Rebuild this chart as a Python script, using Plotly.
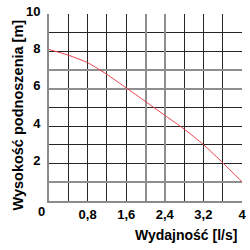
import plotly.graph_objects as go

flow = [0.0, 0.4, 0.8, 1.2, 1.6, 2.0, 2.4, 2.8, 3.2, 3.6, 4.0]
head = [8.1, 7.8, 7.4, 6.77, 6.05, 5.32, 4.58, 3.85, 3.02, 2.05, 1.03]

x_tickvals = [0.8, 1.6, 2.4, 3.2, 4.0]
x_ticktext = ["0,8", "1,6", "2,4", "3,2", "4"]
y_tickvals = [2, 4, 6, 8, 10]
y_ticktext = ["2", "4", "6", "8", "10"]
x_grid_dark = [0.4, 0.8, 1.2, 1.6, 2.8, 3.2, 3.6]
x_grid_light = [2.0, 2.4]
y_grid_dark = [2, 3, 4, 5, 8, 9]
y_grid_light = [1, 6, 7]

FONT = "Liberation Sans, Arial, sans-serif"
DARK = "#262626"
LIGHT = "#8e8e8e"

fig = go.Figure()
fig.add_trace(go.Scatter(x=flow, y=head, mode="lines",
                         line=dict(color="#e8404a", width=1, shape="spline", smoothing=0.5),
                         hoverinfo="skip", showlegend=False))
# invisible trace tying the overlay axes used for the lighter grid lines
fig.add_trace(go.Scatter(x=[0, 4], y=[0, 10], xaxis="x2", yaxis="y2", mode="none",
                         hoverinfo="skip", showlegend=False))

fig.update_layout(
    width=250, height=250,
    margin=dict(l=49, r=5, t=4, b=49),
    paper_bgcolor="white", plot_bgcolor="white",
    font=dict(family=FONT, color="black", size=13, weight="bold"),
    xaxis=dict(range=[0, 4], tickvals=x_tickvals, ticktext=x_ticktext,
               showgrid=False, zeroline=False,
               showline=True, linecolor="#8a8a8a", linewidth=2,
               ticks="", ticklabelstandoff=0, ticklabeloverflow="allow",
               tickfont=dict(size=13, family=FONT, weight="bold"),
               minor=dict(tickvals=x_grid_dark, showgrid=True, gridcolor=DARK, gridwidth=1, ticks="")),
    yaxis=dict(range=[0, 10], tickvals=y_tickvals, ticktext=y_ticktext,
               showgrid=False, zeroline=False,
               showline=True, linecolor="#8a8a8a", linewidth=2,
               ticks="", ticklabelstandoff=4, ticklabeloverflow="allow", ticklabelshift=-3,
               tickfont=dict(size=13, family=FONT, weight="bold"),
               minor=dict(tickvals=y_grid_dark, showgrid=True, gridcolor=DARK, gridwidth=1, ticks="")),
    xaxis2=dict(range=[0, 4], overlaying="x", tickvals=x_grid_light, showticklabels=False,
                showgrid=True, gridcolor=LIGHT, gridwidth=1.6, zeroline=False, showline=False,
                ticks="", layer="below traces"),
    yaxis2=dict(range=[0, 10], overlaying="y", tickvals=y_grid_light, showticklabels=False,
                showgrid=True, gridcolor=LIGHT, gridwidth=1.6, zeroline=False, showline=False,
                ticks="", layer="below traces"),
    annotations=[
        dict(text="0", xref="paper", yref="paper", x=-0.041, y=-0.056,
             showarrow=False, xanchor="center", yanchor="middle",
             font=dict(size=13, family=FONT, weight="bold")),
        dict(text="Wydajność [l/s]", xref="paper", yref="paper", x=0.985, y=-0.184,
             showarrow=False, xanchor="right", yanchor="middle",
             font=dict(size=14, family=FONT, weight="bold")),
        dict(text="Wysokość podnoszenia [m]", xref="paper", yref="paper", x=-0.163, y=0.46,
             showarrow=False, xanchor="center", yanchor="middle", textangle=-90,
             font=dict(size=14.5, family=FONT, weight="bold")),
    ],
)

fig.write_html("out.html")
